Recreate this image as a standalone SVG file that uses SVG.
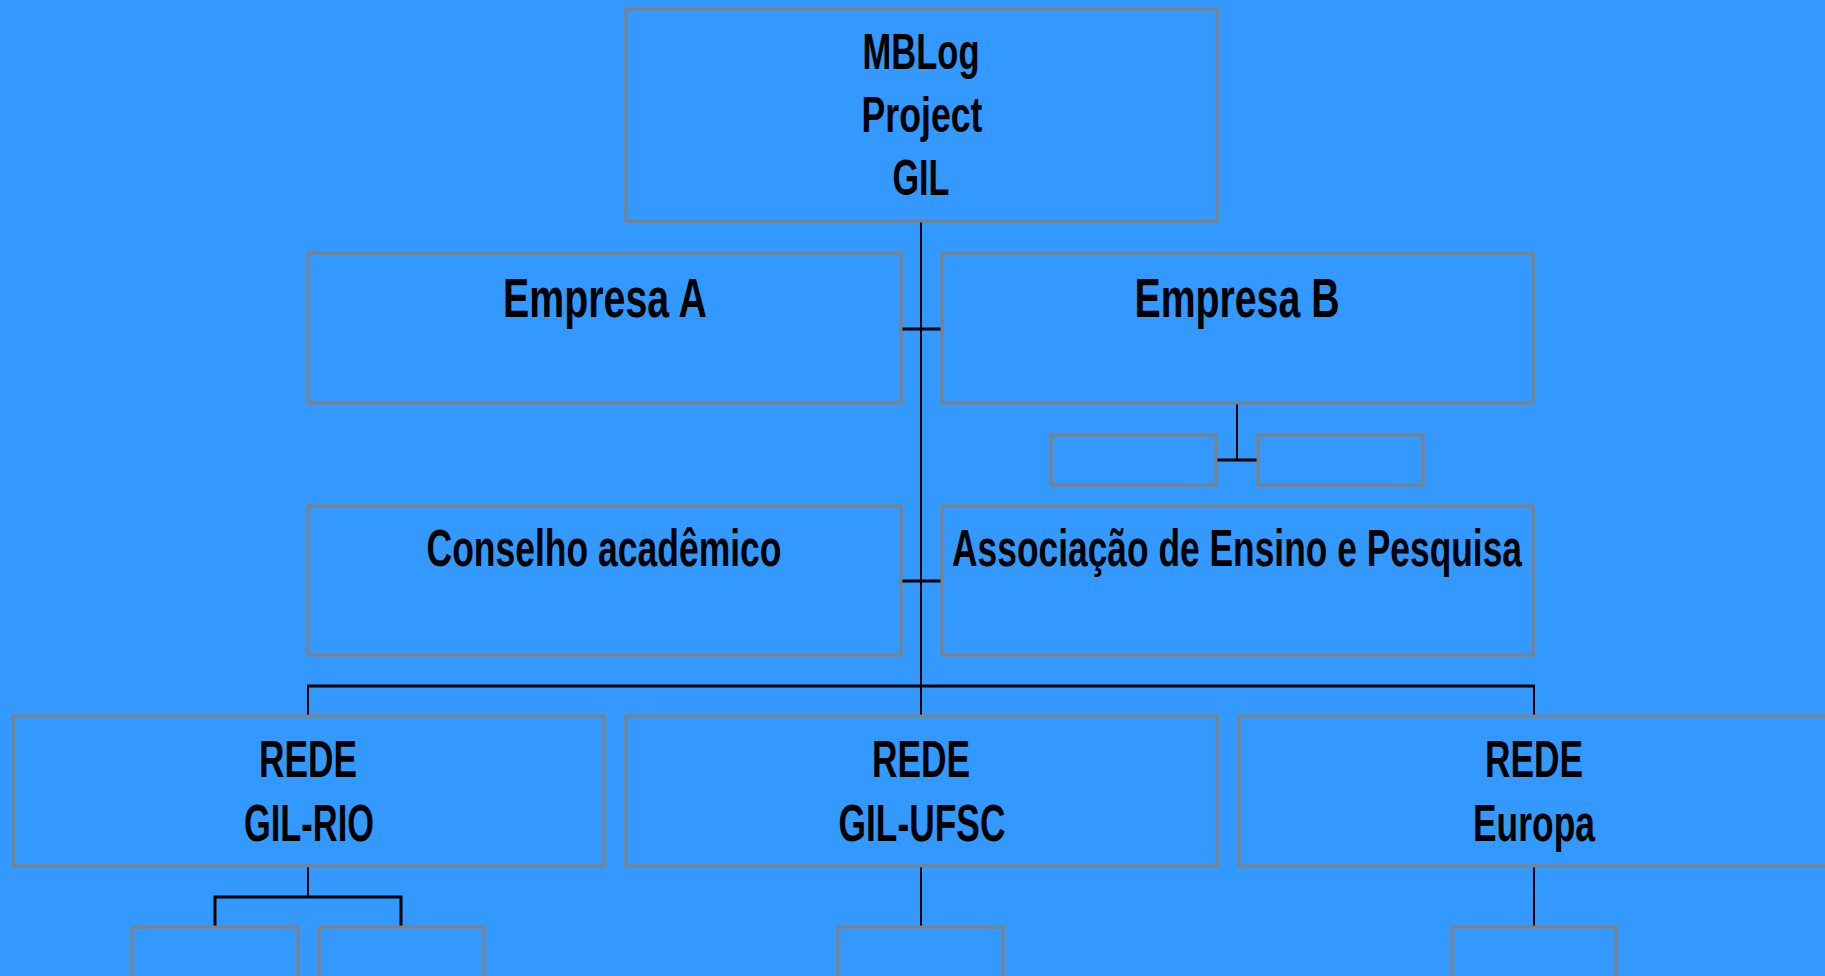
<svg xmlns="http://www.w3.org/2000/svg" width="1825" height="976" viewBox="0 0 1825 976">
<style>
.box{fill:#3399FF;stroke:#808080;stroke-width:3}
.t{font-family:"Liberation Sans",Arial,sans-serif;font-weight:bold;fill:#000;text-anchor:middle}
.s50{font-size:50px}
.s56{font-size:55px}
.s52{font-size:52px}
.v{stroke:#000;stroke-width:2;fill:none}
.h{stroke:#000;stroke-width:3;fill:none}
</style>
<rect x="0" y="0" width="1825" height="976" fill="#3399FF"/>
<g id="connectors">
<line class="v" x1="921" y1="221" x2="921" y2="716"/>
<line class="h" x1="901" y1="329" x2="942" y2="329"/>
<line class="h" x1="901" y1="581" x2="942" y2="581"/>
<line class="h" x1="307" y1="686" x2="1535" y2="686"/>
<line class="v" x1="308" y1="686" x2="308" y2="716"/>
<line class="v" x1="1534" y1="686" x2="1534" y2="716"/>
<line class="v" x1="1237" y1="403" x2="1237" y2="460"/>
<line class="h" x1="1216" y1="460" x2="1258" y2="460"/>
<line class="v" x1="308" y1="866" x2="308" y2="897"/>
<path class="h" d="M215,926 V897 H401 V926"/>
<line class="v" x1="921" y1="866" x2="921" y2="927"/>
<line class="v" x1="1534" y1="866" x2="1534" y2="927"/>
</g>
<g id="mblog">
<rect class="box" x="626" y="9" width="591" height="212"/>
<text class="t s50" x="921" y="69" textLength="117" lengthAdjust="spacingAndGlyphs">MBLog</text>
<text class="t s50" x="922" y="132" textLength="121" lengthAdjust="spacingAndGlyphs">Project</text>
<text class="t s50" x="921" y="195" textLength="57" lengthAdjust="spacingAndGlyphs">GIL</text>
</g>
<g id="empresa-a">
<rect class="box" x="308" y="253" width="593" height="150"/>
<text class="t s56" x="605" y="317" textLength="204" lengthAdjust="spacingAndGlyphs">Empresa A</text>
</g>
<g id="empresa-b">
<rect class="box" x="942" y="253" width="591" height="150"/>
<text class="t s56" x="1237" y="317" textLength="205" lengthAdjust="spacingAndGlyphs">Empresa B</text>
</g>
<g id="b-sub-1"><rect class="box" x="1051" y="435" width="165" height="50"/></g>
<g id="b-sub-2"><rect class="box" x="1258" y="435" width="165" height="50"/></g>
<g id="conselho">
<rect class="box" x="308" y="506" width="593" height="149"/>
<text class="t s52" x="604" y="566" textLength="355" lengthAdjust="spacingAndGlyphs">Conselho acadêmico</text>
</g>
<g id="associacao">
<rect class="box" x="942" y="506" width="591" height="149"/>
<text class="t s52" x="1237" y="566" textLength="570" lengthAdjust="spacingAndGlyphs">Associação de Ensino e Pesquisa</text>
</g>
<g id="rede-rio">
<rect class="box" x="13" y="716" width="591" height="150"/>
<text class="t s52" x="308" y="777" textLength="98" lengthAdjust="spacingAndGlyphs">REDE</text>
<text class="t s52" x="309" y="841" textLength="130" lengthAdjust="spacingAndGlyphs">GIL-RIO</text>
</g>
<g id="rede-ufsc">
<rect class="box" x="626" y="716" width="591" height="150"/>
<text class="t s52" x="921" y="777" textLength="98" lengthAdjust="spacingAndGlyphs">REDE</text>
<text class="t s52" x="922" y="841" textLength="167" lengthAdjust="spacingAndGlyphs">GIL-UFSC</text>
</g>
<g id="rede-europa">
<rect class="box" x="1239" y="716" width="590" height="150"/>
<text class="t s52" x="1534" y="777" textLength="98" lengthAdjust="spacingAndGlyphs">REDE</text>
<text class="t s52" x="1534" y="841" textLength="122" lengthAdjust="spacingAndGlyphs">Europa</text>
</g>
<g id="rio-sub-1"><rect class="box" x="132" y="927" width="166" height="52"/></g>
<g id="rio-sub-2"><rect class="box" x="319" y="927" width="165" height="52"/></g>
<g id="ufsc-sub"><rect class="box" x="838" y="927" width="165" height="52"/></g>
<g id="europa-sub"><rect class="box" x="1452" y="927" width="164" height="52"/></g>
</svg>
